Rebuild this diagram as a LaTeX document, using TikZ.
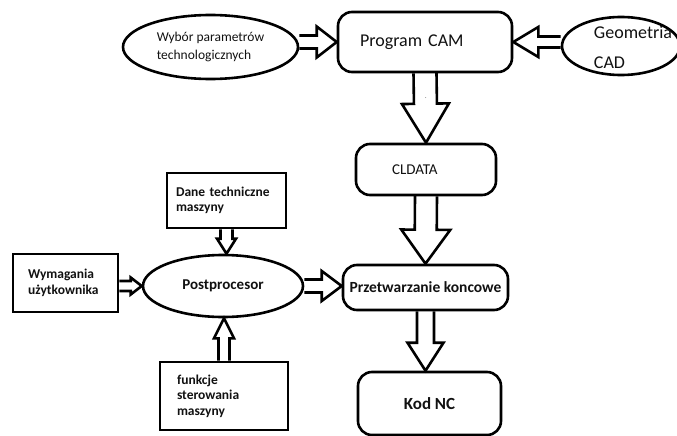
\documentclass[tikz,border=0pt]{standalone}
\usepackage{fontspec}
\setmainfont{Carlito}
\usepackage{tikz}
\usetikzlibrary{positioning, calc, shapes.geometric}
\definecolor{lineInk}{HTML}{000000}
\definecolor{textInk}{HTML}{111111}
\tikzset{
  blockline/.style={draw=lineInk, line width=2.6pt, line join=miter},
  oval/.style={ellipse, draw=lineInk, line width=2.6pt, inner sep=0pt, text=textInk},
  roundbox/.style={draw=lineInk, line width=2.6pt, rounded corners=14pt, inner sep=0pt, text=textInk},
  plainbox/.style={draw=lineInk, line width=2.6pt, inner sep=0pt, text=textInk},
  normtxt/.style={font=\fontsize{13.5}{18}\selectfont},
  boldtxt/.style={font=\bfseries\fontsize{13.5}{15.5}\selectfont},
}
\newcommand{\hollowarrow}[5]{%
  \coordinate (hb) at ($(#2)!#5!(#1)$);
  \draw[blockline] ($(#1)!#3!90:(#2)$) -- ($(hb)!#3!-90:(#1)$) -- ($(hb)!#4!-90:(#1)$) -- (#2)
    -- ($(hb)!#4!90:(#1)$) -- ($(hb)!#3!90:(#1)$) -- ($(#1)!#3!-90:(#2)$);
}
\begin{document}
\begin{tikzpicture}[x=1pt, y=-1pt]
  \useasboundingbox (0,0) rectangle (677,436);
  \node[oval, minimum width=175pt, minimum height=64pt, normtxt, align=left] (wybor) at (210.5,47) {Wybór parametrów\\technologicznych};
  \node[roundbox, minimum width=174pt, minimum height=60pt, text width=130pt, align=left, font=\fontsize{18}{20}\selectfont] (cam) at (425,42) {Program CAM};
  \node[oval, minimum width=118pt, minimum height=58pt] (geo) at (621,46) {};
  \node[text=textInk, font=\fontsize{18}{30}\selectfont, align=left] (geotxt) at (633,47) {Geometria\\CAD};
  \node[roundbox, minimum width=140pt, minimum height=51pt, text width=68pt, align=left, font=\fontsize{15}{17}\selectfont] (cl) at (426,169.5) {CLDATA};
  \node[text=textInk, font=\fontsize{6}{6}\selectfont] (kropka) at (426,98) {.};
  \node[roundbox, minimum width=165pt, minimum height=45pt, font=\bfseries\fontsize{15.5}{17}\selectfont] (prz) at (425.5,287.5) {Przetwarzanie koncowe};
  \node[roundbox, minimum width=143pt, minimum height=63pt, font=\bfseries\fontsize{17}{20}\selectfont] (kod) at (429.5,403.5) {Kod NC};
  \node[plainbox, minimum width=119pt, minimum height=55pt, text width=101pt, align=left, boldtxt] (dane) at (226.5,200.5) {Dane techniczne\\maszyny};
  \node[oval, minimum width=160pt, minimum height=62pt, font=\bfseries\fontsize{15}{17}\selectfont] (post) at (223,286) {Postprocesor};
  \node[plainbox, minimum width=105pt, minimum height=58pt, text width=75pt, align=left, boldtxt] (wym) at (65.5,283) {Wymagania\\użytkownika};
  \node[plainbox, minimum width=128pt, minimum height=68pt, text width=94pt, align=left, boldtxt] (fun) at (224,396) {funkcje\\sterowania\\maszyny};
  \hollowarrow{wybor.east |- cam.west}{cam.west}{6.5pt}{15.5pt}{20pt}
  \hollowarrow{geo.west |- cam.east}{cam.east}{5.5pt}{15pt}{25pt}
  \hollowarrow{cam.south}{cl.north}{11.5pt}{23.5pt}{39pt}
  \hollowarrow{cl.south}{prz.north}{11pt}{24.5pt}{34pt}
  \hollowarrow{prz.south}{prz.south |- kod.north}{8.5pt}{18pt}{28pt}
  \hollowarrow{dane.south}{dane.south |- post.north}{6pt}{9.5pt}{15pt}
  \hollowarrow{wym.east |- post.west}{post.west}{5pt}{8.5pt}{11pt}
  \hollowarrow{post.east}{post.east -| prz.west}{6.5pt}{15pt}{20pt}
  \hollowarrow{fun.north}{fun.north |- post.south}{5.5pt}{10pt}{20pt}
\end{tikzpicture}
\end{document}
